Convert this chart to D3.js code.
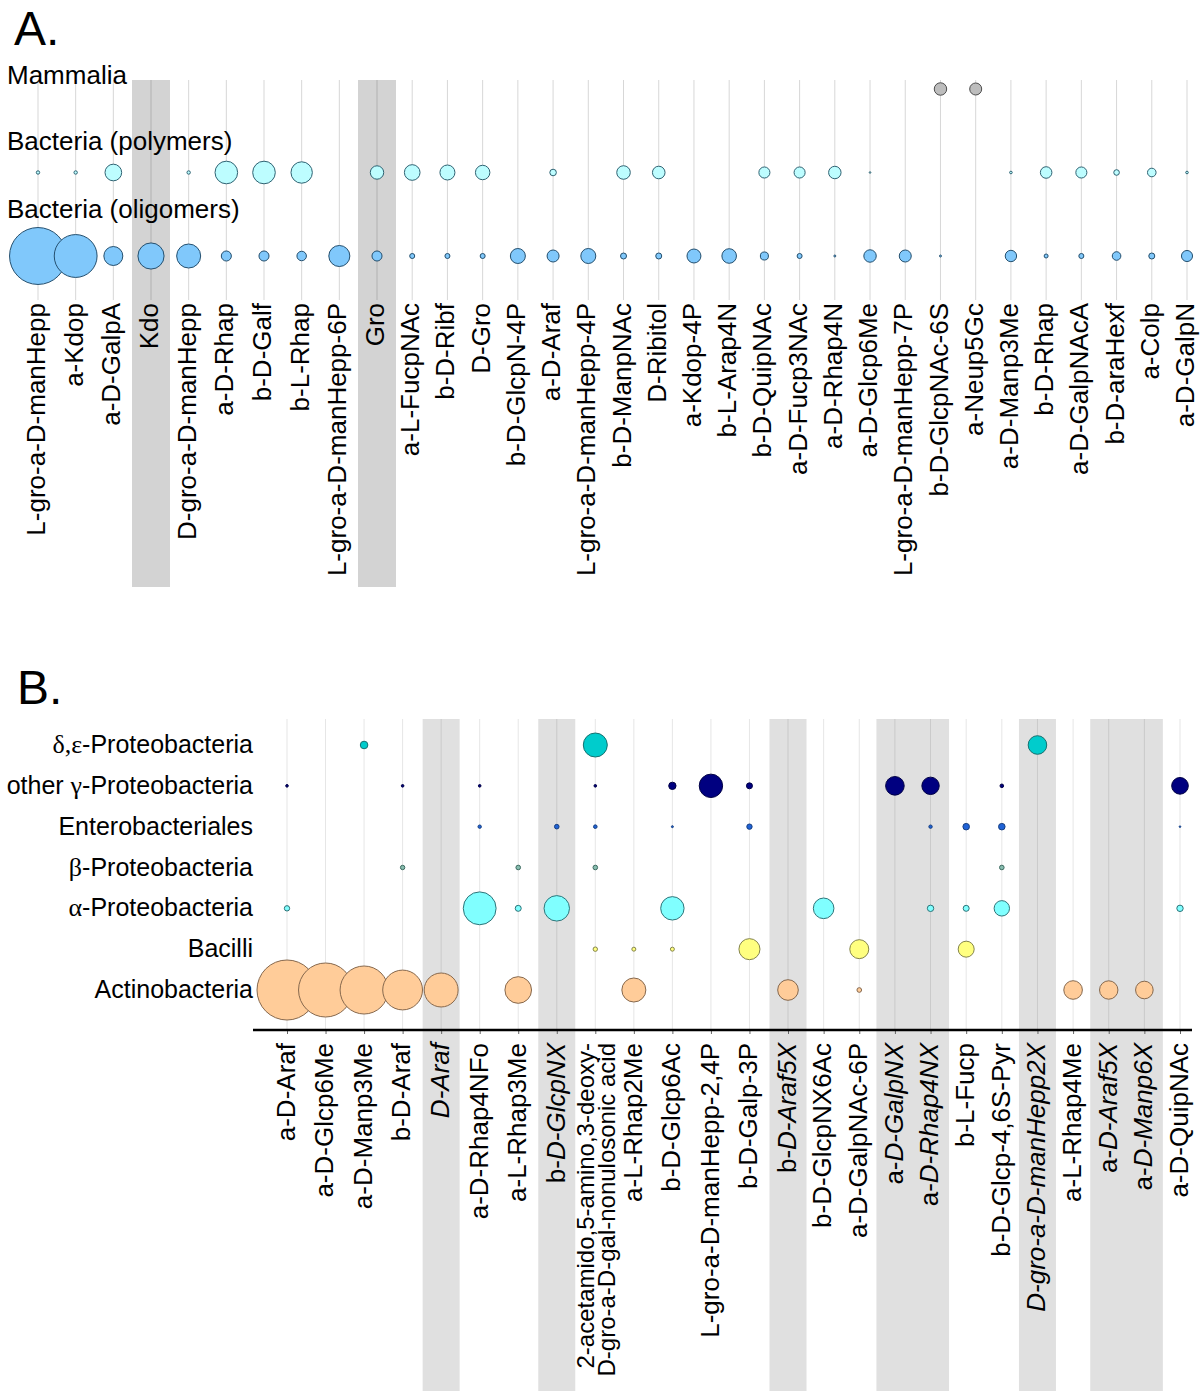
<!DOCTYPE html>
<html><head><meta charset="utf-8">
<script src="https://cdn.jsdelivr.net/npm/d3@7"></script>
<style>
body{margin:0;background:#fff}
svg{display:block}
text{font-family:"Liberation Sans",Arial,sans-serif;fill:#000}
</style>
</head><body>
<svg id="c" width="1200" height="1391"></svg>
<script>
// ---------- Panel A data ----------
const monoA = ["L-gro-a-D-manHepp","a-Kdop","a-D-GalpA","Kdo","D-gro-a-D-manHepp","a-D-Rhap","b-D-Galf","b-L-Rhap",
  "L-gro-a-D-manHepp-6P","Gro","a-L-FucpNAc","b-D-Ribf","D-Gro","b-D-GlcpN-4P","a-D-Araf","L-gro-a-D-manHepp-4P",
  "b-D-ManpNAc","D-Ribitol","a-Kdop-4P","b-L-Arap4N","b-D-QuipNAc","a-D-Fucp3NAc","a-D-Rhap4N","a-D-Glcp6Me",
  "L-gro-a-D-manHepp-7P","b-D-GlcpNAc-6S","a-Neup5Gc","a-D-Manp3Me","b-D-Rhap","a-D-GalpNAcA","b-D-araHexf","a-Colp","a-D-GalpN"];
const rowsA = ["Mammalia","Bacteria (polymers)","Bacteria (oligomers)"];
const _ = null;
const mammalia = [_,_,_,_,_,_,_,_,_,_,_,_,_,_,_,_,_,_,_,_,_,_,_,_,_,4.3,4,_,_,_,_,_,_];
const polymers = [0.32,0.32,7.7,_,0.32,14.2,14.2,12.7,_,5,6.8,6.25,5.8,_,1.2,_,5.1,4.4,_,_,3.4,3.4,4.3,0.07,_,_,_,0.19,3.7,3.4,0.87,2.05,0.19];
const oligomers = [90,51,10,19,16,2.8,2.8,2.5,12.3,2.8,0.7,0.7,0.7,6.25,4,6.25,1,1,5.4,5.9,1.8,0.7,0.11,4.3,4,0.11,_,3.6,0.44,0.7,2.05,1,3.4];
const shadedA = ["Kdo","Gro"];

// ---------- Panel B data ----------
const monoB = ["a-D-Araf","a-D-Glcp6Me","a-D-Manp3Me","b-D-Araf","D-Araf","a-D-Rhap4NFo","a-L-Rhap3Me","b-D-GlcpNX",
  "2-acetamido,5-amino,3-deoxy-\nD-gro-a-D-gal-nonulosonic acid","a-L-Rhap2Me","b-D-Glcp6Ac","L-gro-a-D-manHepp-2,4P",
  "b-D-Galp-3P","b-D-Araf5X","b-D-GlcpNX6Ac","a-D-GalpNAc-6P","a-D-GalpNX","a-D-Rhap4NX","b-L-Fucp","b-D-Glcp-4,6S-Pyr",
  "D-gro-a-D-manHepp2X","a-L-Rhap4Me","a-D-Araf5X","a-D-Manp6X","a-D-QuipNAc"];
const rowsB = ["δ,ε-Proteobacteria","other γ-Proteobacteria","Enterobacteriales","β-Proteobacteria","α-Proteobacteria","Bacilli","Actinobacteria"];
const deltaEps   = [_,_,1.6,_,_,_,_,_,16,_,_,_,_,_,_,_,_,_,_,_,9.6,_,_,_,_];
const otherGamma = [0.19,_,_,0.19,_,0.19,_,_,0.19,_,1.5,15.2,1,_,_,_,9.6,8.4,_,0.36,_,_,_,_,7.7];
const entero     = [_,_,_,_,_,0.32,_,0.59,0.36,_,0.11,_,0.8,_,_,_,_,0.32,1.2,1.2,_,_,_,_,0.07];
const beta       = [_,_,_,0.54,_,_,0.59,_,0.59,_,_,_,_,_,_,_,_,_,_,0.59,_,_,_,_,_];
const alpha      = [0.8,_,_,_,_,30,1,18,_,_,15.2,_,_,_,11.8,_,_,1.14,1,6.6,_,_,_,_,1.14];
const bacilli    = [_,_,_,_,_,_,_,_,0.54,0.44,0.44,_,12.3,_,_,10,_,_,7.1,_,_,_,_,_,_];
const actino     = [100,81,64,44,32,_,19.7,_,_,16,_,_,_,11.8,_,0.6,_,_,_,_,_,9.6,9.4,8.6,_];
const shadedB = ["D-Araf","b-D-GlcpNX","b-D-Araf5X","a-D-GalpNX","a-D-Rhap4NX","D-gro-a-D-manHepp2X","a-D-Araf5X","a-D-Manp6X"];

// ---------- Drawing ----------
const svg = d3.select("#c");
const rScale = d3.scaleSqrt().domain([0,100]).range([0,30]);

// Panel A
const gA = svg.append("g");
const xA = d3.scaleLinear().domain([0, 9, monoA.length-1]).range([38, 377, 1187]);
const yA = d3.scalePoint().domain(rowsA).range([89, 256]);
const labelYA = [84, 150, 218];

gA.append("text").attr("x",14).attr("y",45).attr("font-size",48).text("A.");

gA.selectAll("rect.band").data(monoA.map((m,i)=>({m,i})).filter(d=>shadedA.includes(d.m)))
  .join("rect").attr("x",d=>xA(d.i)-19).attr("width",38).attr("y",80).attr("height",507).attr("fill","#d3d3d3");

gA.selectAll("line.grid").data(monoA.map((m,i)=>i)).join("line")
  .attr("x1",d=>xA(d)).attr("x2",d=>xA(d)).attr("y1",80).attr("y2",300)
  .attr("stroke","rgba(0,0,0,0.16)").attr("stroke-width",1);

gA.selectAll("text.rowlab").data(rowsA).join("text")
  .attr("x",7).attr("y",(d,i)=>labelYA[i]).attr("font-size",26).text(d=>d);

const seriesA = [
  {row:"Mammalia", vals:mammalia, fill:"#bdbdbd", stroke:"#4d4d4d"},
  {row:"Bacteria (polymers)", vals:polymers, fill:"#bdfdff", stroke:"#2f6272"},
  {row:"Bacteria (oligomers)", vals:oligomers, fill:"#80c8fb", stroke:"#244f6e"}
];
seriesA.forEach(s=>{
  gA.append("g").selectAll("circle").data(s.vals.map((v,i)=>({v,i})).filter(d=>d.v!=null)).join("circle")
    .attr("cx",d=>xA(d.i)).attr("cy",yA(s.row)).attr("r",d=>rScale(d.v))
    .attr("fill",s.fill).attr("stroke",s.stroke).attr("stroke-width",1);
});

gA.selectAll("text.xlab").data(monoA).join("text")
  .attr("transform",(d,i)=>`translate(${xA(i)},303) rotate(-90)`)
  .attr("text-anchor","end").attr("dy","0.27em").attr("font-size",26).text(d=>d);

// Panel B
const gB = svg.append("g");
const xB = d3.scaleLinear().domain([0, 13, monoB.length-1]).range([287, 788, 1180]);
const yB = d3.scalePoint().domain(rowsB).range([745, 990]);
const axisY = 1030;

gB.append("text").attr("x",17).attr("y",704).attr("font-size",48).text("B.");

gB.selectAll("rect.band").data(monoB.map((m,i)=>({m,i})).filter(d=>shadedB.includes(d.m)))
  .join("rect").attr("x",d=>xB(d.i)-18.5).attr("width",37).attr("y",719).attr("height",1391-719).attr("fill","#e0e0e0");

gB.selectAll("line.grid").data(monoB.map((m,i)=>i)).join("line")
  .attr("x1",d=>xB(d)).attr("x2",d=>xB(d)).attr("y1",719).attr("y2",axisY)
  .attr("stroke","rgba(0,0,0,0.1)").attr("stroke-width",1);

// row labels with serif greek letters
const rowLab = gB.selectAll("text.rowlab").data(rowsB).join("text")
  .attr("x",253).attr("y",d=>yB(d)+8).attr("text-anchor","end").attr("font-size",25);
rowLab.each(function(d){
  const t = d3.select(this);
  const runs = [];
  const isG = (c,prev)=>/[\u0370-\u03FF]/.test(c) || (c===',' && prev && /[\u0370-\u03FF]/.test(prev));
  for (let k=0;k<d.length;k++){
    const g = isG(d[k], d[k-1]);
    if (runs.length && runs[runs.length-1].g===g) runs[runs.length-1].s += d[k];
    else runs.push({g, s:d[k]});
  }
  runs.forEach(r=>{
    const ts = t.append("tspan").text(r.s);
    if (r.g) ts.style("font-family","'Liberation Serif','Times New Roman',serif").attr("font-size",26);
  });
});

const seriesB = [
  {row:"δ,ε-Proteobacteria", vals:deltaEps, fill:"#00cccc", stroke:"#16706f"},
  {row:"other γ-Proteobacteria", vals:otherGamma, fill:"#000080", stroke:"#000044"},
  {row:"Enterobacteriales", vals:entero, fill:"#1f62d6", stroke:"#173f80"},
  {row:"β-Proteobacteria", vals:beta, fill:"#86bcae", stroke:"#3d6a60"},
  {row:"α-Proteobacteria", vals:alpha, fill:"#80ffff", stroke:"#2d7479"},
  {row:"Bacilli", vals:bacilli, fill:"#ffff80", stroke:"#84844a"},
  {row:"Actinobacteria", vals:actino, fill:"#ffcc99", stroke:"#86684d"}
];
seriesB.forEach(s=>{
  gB.append("g").selectAll("circle").data(s.vals.map((v,i)=>({v,i})).filter(d=>d.v!=null)).join("circle")
    .attr("cx",d=>xB(d.i)).attr("cy",yB(s.row)).attr("r",d=>rScale(d.v))
    .attr("fill",s.fill).attr("stroke",s.stroke).attr("stroke-width",1);
});

// axis ticks via d3 axis
const axisG = gB.append("g").attr("transform",`translate(0,${axisY})`)
  .call(d3.axisBottom(xB).tickValues(d3.range(monoB.length)).tickSize(4).tickFormat(""));
axisG.select(".domain").remove();
axisG.selectAll(".tick line").attr("stroke","#666");
gB.append("line").attr("x1",253).attr("x2",1192).attr("y1",axisY).attr("y2",axisY)
  .attr("stroke","#000").attr("stroke-width",2.5);

// x labels
monoB.forEach((m,i)=>{
  const lines = m.split("\n");
  const t = gB.append("text").attr("transform",`translate(${xB(i)},1043) rotate(-90)`)
    .attr("text-anchor","end");
  if (lines.length>1){
    t.attr("font-size",24);
    lines.forEach((ln,k)=>t.append("tspan").attr("x",0).attr("y",k===0?-1:20).text(ln));
  } else {
    t.attr("font-size",26).attr("dy","0.3em");
    if (shadedB.includes(m)){
      const mt = m.match(/^([ab]-)(.*)$/);
      if (mt){ t.append("tspan").text(mt[1]); t.append("tspan").attr("font-style","italic").text(mt[2]); }
      else t.append("tspan").attr("font-style","italic").text(m);
    } else t.text(m);
  }
});
</script>
</body></html>
